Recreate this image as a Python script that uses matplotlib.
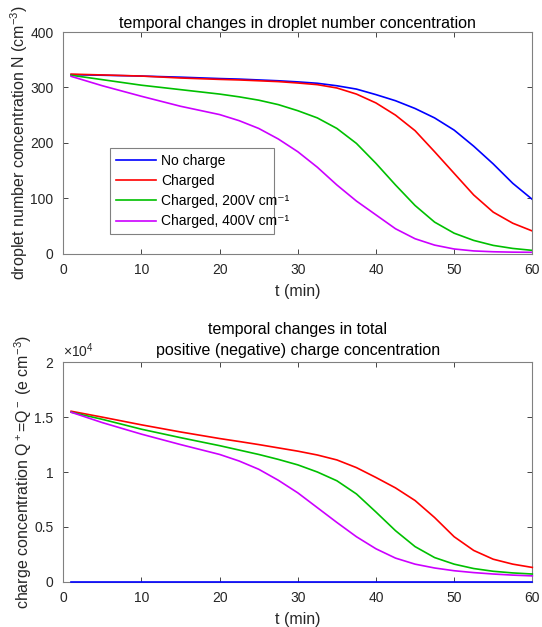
import numpy as np
import matplotlib
matplotlib.use("Agg")
import matplotlib.pyplot as plt
from matplotlib.ticker import FuncFormatter

plt.rcParams['font.family'] = ['Liberation Sans', 'DejaVu Sans']
plt.rcParams['mathtext.fontset'] = 'custom'
plt.rcParams['mathtext.rm'] = 'Liberation Sans'
plt.rcParams['mathtext.it'] = 'Liberation Sans:italic'
plt.rcParams['mathtext.default'] = 'regular'

# tempo (min)
t = [1, 5, 10, 15, 20, 22.5, 25, 27.5, 30, 32.5, 35, 37.5, 40, 42.5, 45, 47.5, 50, 52.5, 55, 57.5, 60]

# concentrazione numerica delle gocce (cm^-3)
n_nocharge = [323, 322, 320.5, 318.5, 316, 315, 313.5, 312, 310, 307.5, 303, 297, 287, 276, 262, 245, 223, 194, 162, 127, 98]
n_charged = [324, 322.5, 320.5, 317, 314.5, 313.5, 312, 310.5, 308, 305, 299, 288, 272, 250, 222, 184, 145, 106, 75, 55, 41]
n_200 = [322, 314, 304, 296, 288, 283, 277, 269, 258, 245, 226, 199, 163, 124, 87, 57, 37, 24, 15, 9.5, 6]
n_400 = [320, 303, 284, 266, 251, 240, 226, 207, 184, 156, 124, 95, 70, 45, 27, 15.5, 8.5, 5, 3.5, 2.8, 2.5]

# concentrazione di carica (e cm^-3)
q_nocharge = [0] * len(t)
q_charged = [15540, 15000, 14300, 13650, 13050, 12780, 12500, 12200, 11900, 11550, 11100, 10400, 9500, 8550, 7400, 5850, 4100, 2850, 2050, 1600, 1300]
q_200 = [15450, 14800, 13900, 13130, 12400, 12000, 11600, 11150, 10650, 10000, 9200, 8000, 6350, 4650, 3200, 2200, 1600, 1200, 950, 800, 700]
q_400 = [15450, 14500, 13450, 12500, 11600, 11000, 10250, 9250, 8100, 6750, 5400, 4100, 3000, 2150, 1600, 1250, 1000, 830, 700, 600, 530]

labels = ['No charge', 'Charged', 'Charged, 200V cm⁻¹', 'Charged, 400V cm⁻¹']
colors = ['#0000ff', '#ff0000', '#00c000', '#cc00ff']

fig = plt.figure(figsize=(5.42, 6.27), dpi=100)
W, H = 542, 627
ax1 = fig.add_axes([63.3 / W, 1 - 253.7 / H, 469 / W, 221.7 / H])
ax2 = fig.add_axes([63.3 / W, 1 - 581.7 / H, 469 / W, 219.4 / H])

axcol = '#262626'
for ax in (ax1, ax2):
    ax.set_xlim(0, 60)
    ax.set_xticks(range(0, 61, 10))
    ax.tick_params(direction='in', top=True, right=True, labelsize=10,
                   colors=axcol, length=3.5, width=0.6, pad=7)
    for s in ax.spines.values():
        s.set_color('#808080')
        s.set_linewidth(0.8)
    ax.set_xlabel('t (min)', fontsize=11.5, color=axcol, labelpad=5)

# grafico superiore
for y, c, lab in zip([n_nocharge, n_charged, n_200, n_400], colors, labels):
    ax1.plot(t, y, color=c, lw=1.2, label=lab, zorder=3)
ax1.set_ylim(0, 400)
ax1.set_yticks(range(0, 401, 100))
ax1.set_ylabel('droplet number concentration N (cm$^{-3}$)', fontsize=11.5, color=axcol, labelpad=0)
ax1.set_title('temporal changes in droplet number concentration', fontsize=11.5, pad=3)
leg = ax1.legend(loc='lower left', bbox_to_anchor=(0.0996, 0.089, 0.35, 0.374), mode='expand',
                 borderaxespad=0, fontsize=10, fancybox=False, edgecolor='#808080',
                 handlelength=2.9, handletextpad=0.4, labelspacing=0.45, borderpad=0.4,
                 framealpha=1)
leg.get_frame().set_linewidth(0.8)

# grafico inferiore
for y, c in zip([q_nocharge, q_charged, q_200, q_400], colors):
    ax2.plot(t, np.array(y) / 1e4, color=c, lw=1.2, zorder=3, clip_on=False)
ax2.set_ylim(0, 2)
ax2.set_yticks([0, 0.5, 1, 1.5, 2])
ax2.yaxis.set_major_formatter(FuncFormatter(lambda v, p: '%g' % v))
ax2.set_ylabel('charge concentration Q$^+$=Q$^-$ (e cm$^{-3}$)', fontsize=11.5, color=axcol, labelpad=0)
ax2.set_title('temporal changes in total\npositive (negative) charge concentration',
              fontsize=11.5, pad=5, linespacing=1.5)
ax2.text(0, 1.01, r'$\times$10$^4$', transform=ax2.transAxes, fontsize=10,
         color=axcol, ha='left', va='bottom')

fig.savefig('out.png', dpi=100)
